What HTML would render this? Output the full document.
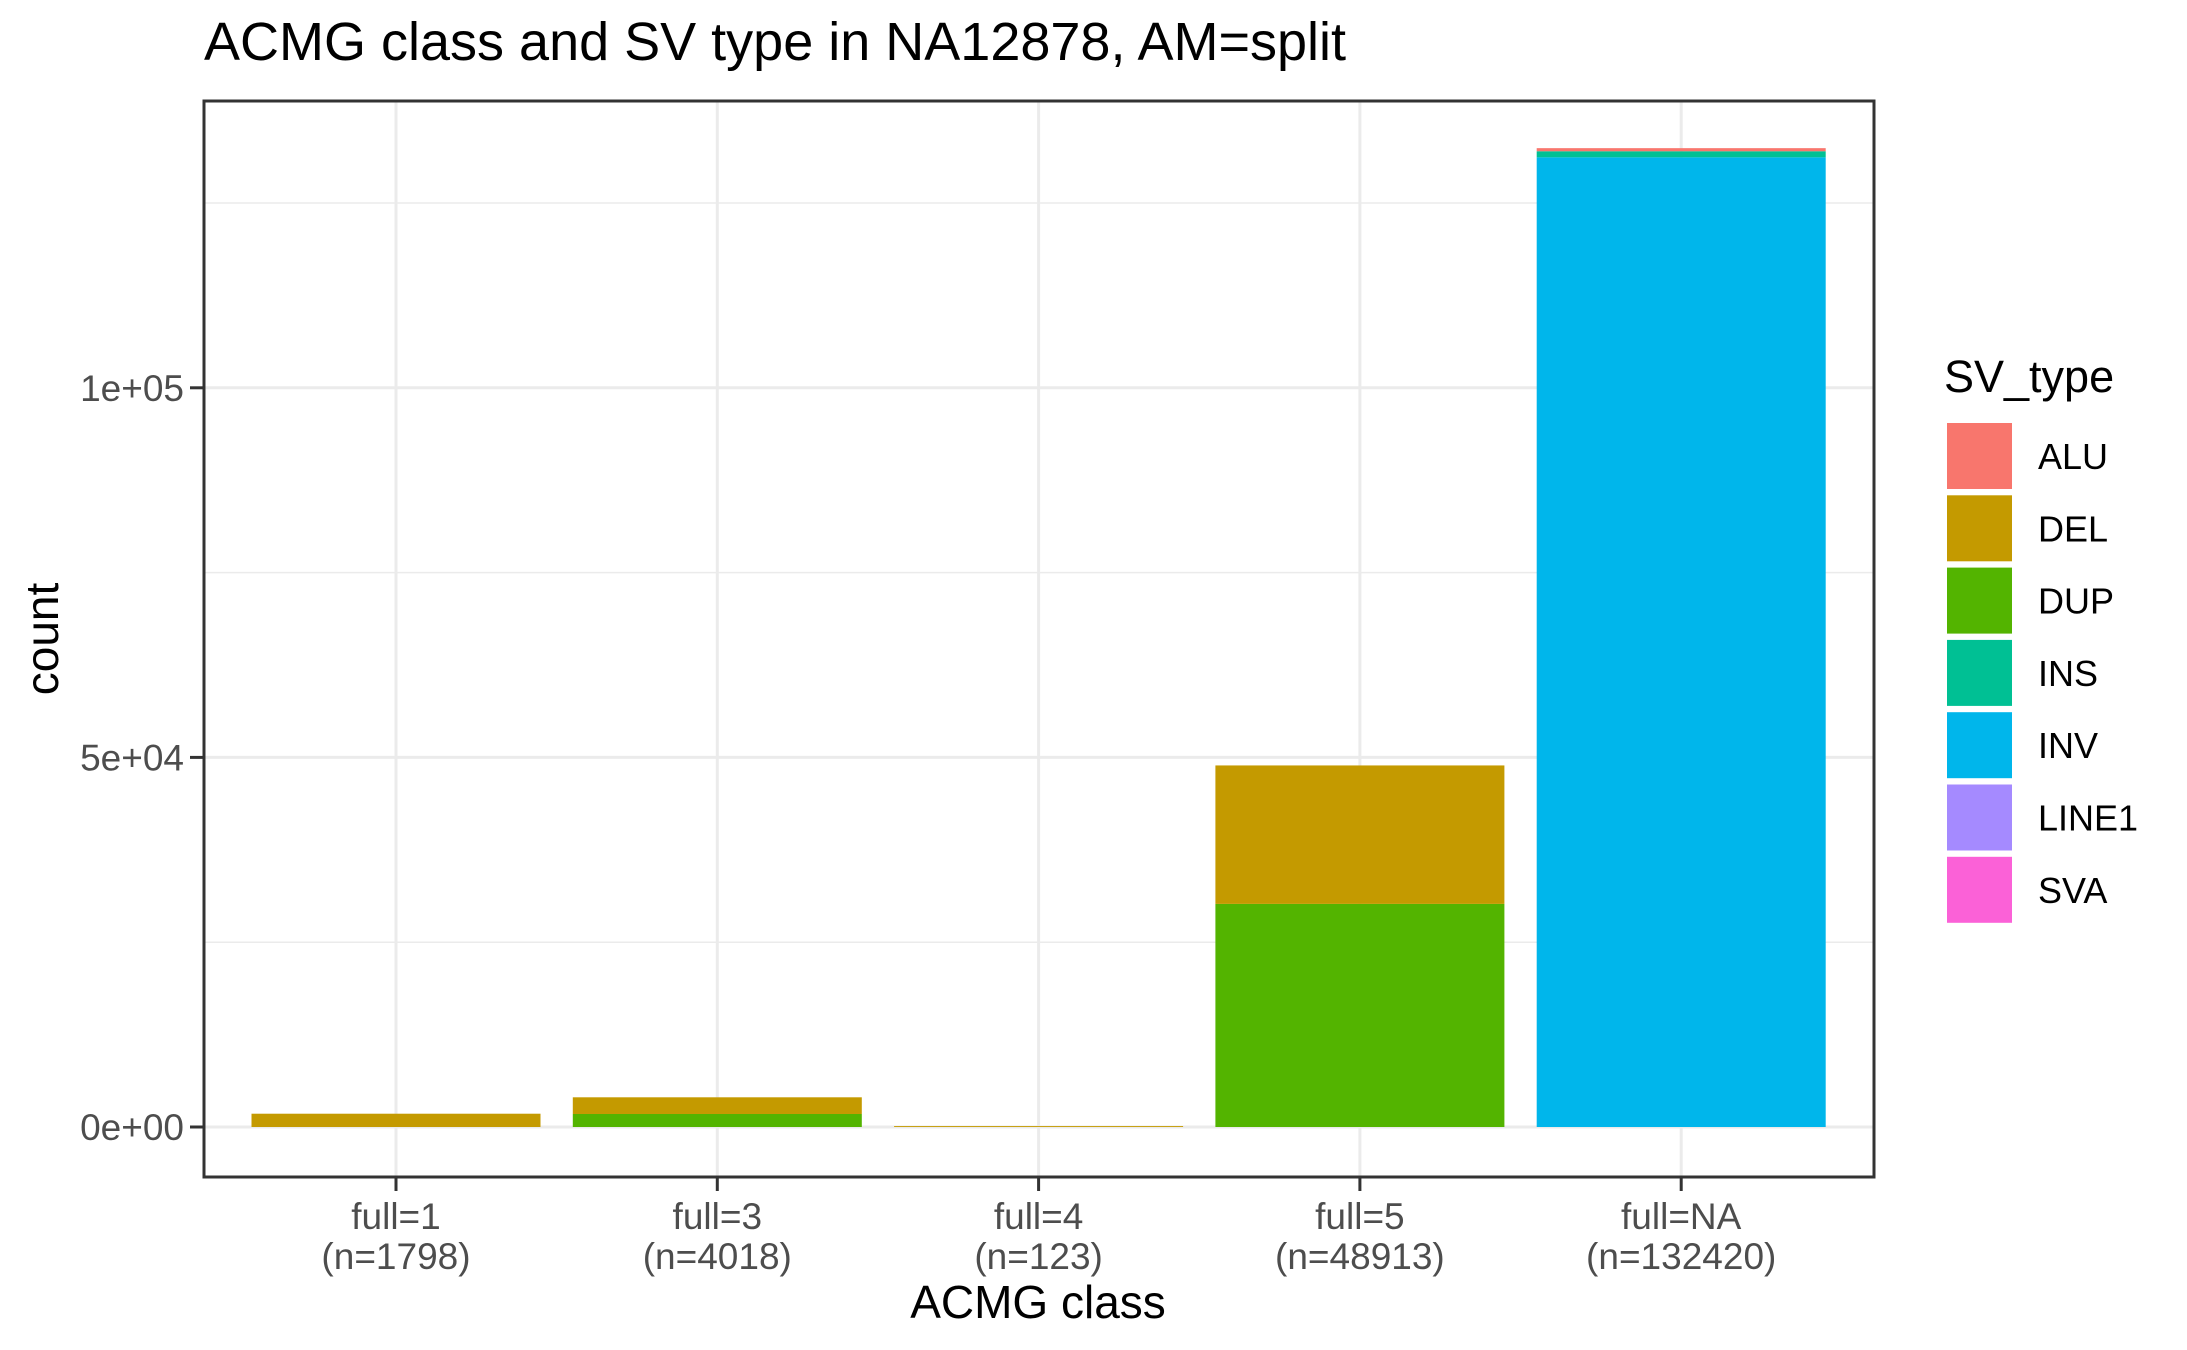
<!DOCTYPE html>
<html><head><meta charset="utf-8"><style>
body{margin:0;background:#fff;}
svg{display:block;font-family:"Liberation Sans",Arial,sans-serif;}
</style></head><body>
<svg id="chart" width="2187" height="1350" viewBox="0 0 2187 1350">
<text x="204" y="60" font-size="54" fill="#000">ACMG class and SV type in NA12878, AM=split</text>
<g id="grid"></g>
<g id="bars"></g>
<rect x="204" y="101" width="1670" height="1076" fill="none" stroke="#333" stroke-width="3"/>
<g id="axes"></g>
<text x="1038" y="1318" font-size="46" text-anchor="middle" fill="#000">ACMG class</text>
<text transform="translate(58,639) rotate(-90)" font-size="46" text-anchor="middle" fill="#000">count</text>
<text x="1944" y="392" font-size="45" fill="#000">SV_type</text>
<g id="legend"></g>
</svg>
<script>
const categories = ["full=1","full=3","full=4","full=5","full=NA"];
const counts = ["(n=1798)","(n=4018)","(n=123)","(n=48913)","(n=132420)"];
const types = ["ALU","DEL","DUP","INS","INV","LINE1","SVA"];
const colors = ["#F8766D","#C49A00","#53B400","#00C094","#00B6EB","#A58AFF","#FB61D7"];
const ALU = [0,0,0,0,420];
const DEL = [1798,2258,123,18733,0];
const DUP = [0,1760,0,30180,0];
const INS = [0,0,0,0,820];
const INV = [0,0,0,0,131180];
const LINE1 = [0,0,0,0,0];
const SVA = [0,0,0,0,0];
const series = [ALU,DEL,DUP,INS,INV,LINE1,SVA];
const yTicks = [0,50000,100000];
const yTickLabels = ["0e+00","5e+04","1e+05"];
const yMinor = [25000,75000,125000];

const NS="http://www.w3.org/2000/svg";
const y0=1127, yPer=739.2/100000;
function yS(v){return y0 - v*yPer;}
const xStart=396, xStep=321.3, bw=289;
function xS(i){return xStart + i*xStep;}
function mk(tag,attrs,parent){const e=document.createElementNS(NS,tag);for(const k in attrs)e.setAttribute(k,attrs[k]);parent.appendChild(e);return e;}
const grid=document.getElementById('grid'), bars=document.getElementById('bars'), axes=document.getElementById('axes'), legend=document.getElementById('legend');
yMinor.forEach(v=>{const l=mk('line',{x1:204,x2:1874,y1:yS(v),y2:yS(v),stroke:'#EBEBEB','stroke-width':1.5},grid);

});
yTicks.forEach(v=>{const l=mk('line',{x1:204,x2:1874,y1:yS(v),y2:yS(v),stroke:'#EBEBEB','stroke-width':3},grid);

});
categories.forEach((c,i)=>{const l=mk('line',{x1:xS(i),x2:xS(i),y1:101,y2:1177,stroke:'#EBEBEB','stroke-width':3},grid);

});
categories.forEach((c,i)=>{let cum=0;
 for(let t=types.length-1;t>=0;t--){const v=series[t][i]; if(!v) continue;
  const r=mk('rect',{x:xS(i)-bw/2,width:bw,y:yS(cum+v),height:v*yPer,fill:colors[t]},bars);
  
  
  cum+=v;}
});
yTicks.forEach((v,i)=>{const t=mk('line',{x1:190,x2:204,y1:yS(v),y2:yS(v),stroke:'#333','stroke-width':3},axes);


const tx=mk('text',{x:184,y:yS(v)+13,'font-size':37,'text-anchor':'end',fill:'#4D4D4D'},axes);tx.textContent=yTickLabels[i];

});
categories.forEach((c,i)=>{const t=mk('line',{x1:xS(i),x2:xS(i),y1:1177,y2:1191,stroke:'#333','stroke-width':3},axes);


const a=mk('text',{x:xS(i),y:1229,'font-size':37,'text-anchor':'middle',fill:'#4D4D4D'},axes);a.textContent=c;


const b=mk('text',{x:xS(i),y:1269,'font-size':37,'text-anchor':'middle',fill:'#4D4D4D'},axes);b.textContent=counts[i];

});
types.forEach((t,i)=>{const y=423+i*72.3;
const r=mk('rect',{x:1947,y:y,width:65,height:66,fill:colors[i]},legend);


const tx=mk('text',{x:2038,y:y+46,'font-size':36,fill:'#000'},legend);tx.textContent=t;

});
</script>
</body></html>
